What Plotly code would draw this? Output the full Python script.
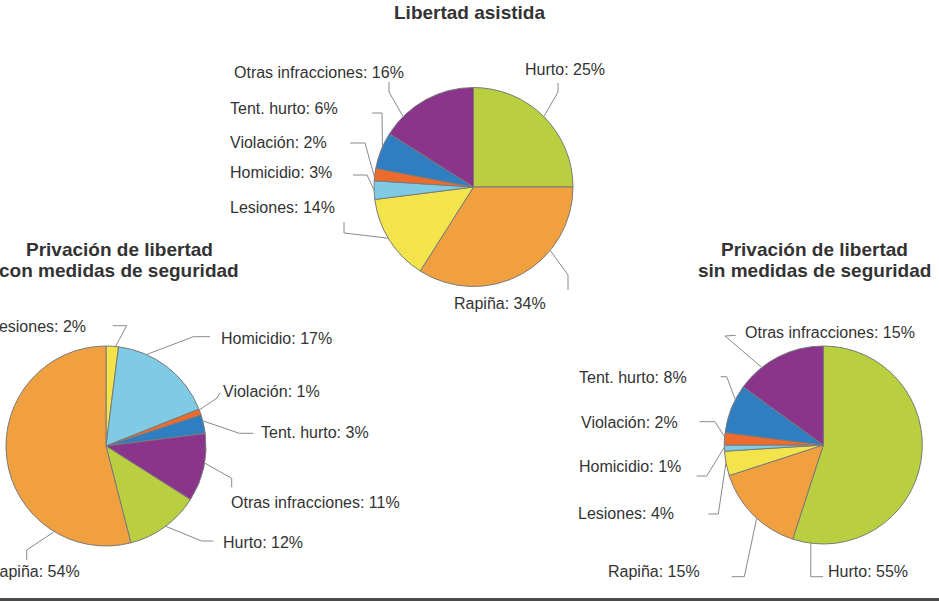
import math
import plotly.graph_objects as go

W, H = 939, 602

# ---- data -------------------------------------------------------------
la_labels = ["Hurto", "Rapiña", "Lesiones", "Homicidio", "Violación",
             "Tent. hurto", "Otras infracciones"]
la_values = [25, 34, 14, 3, 2, 6, 16]

con_labels = ["Lesiones", "Homicidio", "Violación", "Tent. hurto",
              "Otras infracciones", "Hurto", "Rapiña"]
con_values = [2, 17, 1, 3, 11, 12, 54]

sin_labels = ["Hurto", "Rapiña", "Lesiones", "Homicidio", "Violación",
              "Tent. hurto", "Otras infracciones"]
sin_values = [55, 15, 4, 1, 2, 8, 15]

colors = {
    "Hurto": "#B9CF3F",
    "Rapiña": "#F0A03E",
    "Lesiones": "#F2E44A",
    "Homicidio": "#7FCBE6",
    "Violación": "#EE6B2E",
    "Tent. hurto": "#2E7EC1",
    "Otras infracciones": "#8A358B",
}

TEXT = "#333333"
LEADER = "#8a8a8a"
FONT = "Liberation Sans, Arial, sans-serif"


def px(x):
    return x / W


def py(y):
    return 1 - y / H


# ---- layout of each pie: centre, radius, label placement -------------
# label placement: (x, y, xanchor), elbow points, edge angle (deg, clockwise from 12)
pies = [
    dict(
        labels=la_labels, values=la_values, cx=473.5, cy=187, r=99.5,
        place=[
            (523, 69, "left", [(558, 83), (558, 92)], 45),
            (452, 303, "left", [(568, 290), (568, 275)], 129.6),
            (228, 207, "left", [(344, 222), (344, 233)], 239),
            (228, 173, "left", [(353, 175), (367, 175)], 268.3),
            (228, 142, "left", [(350, 143), (365, 143)], 275.7),
            (228, 108, "left", [(372, 113), (382, 113)], 293.8),
            (232, 72, "left", [(389, 82), (389, 92)], 315),
        ],
    ),
    dict(
        labels=con_labels, values=con_values, cx=106, cy=446, r=100,
        place=[
            (88.3, 326.7, "right", [(112.7, 325.7), (126.7, 325.7)], 5.5),
            (219, 338.3, "left", [(210, 336.7), (193.3, 336.7)], 23.9),
            (221, 391, "left", [(220, 393), (217, 398)], 68.9),
            (259, 432.3, "left", [(253.3, 433.3), (239.3, 433.3)], 75.4),
            (229, 502.7, "left", [(231.7, 487.3), (231.7, 478.3)], 99.8),
            (221, 542.3, "left", [(213.3, 541), (201.7, 541)], 143.4),
            (81.7, 571.7, "right", [(26.7, 560), (26.7, 550)], 211.1),
        ],
    ),
    dict(
        labels=sin_labels, values=sin_values, cx=823.3, cy=445, r=99,
        place=[
            (825.7, 571.7, "left", [(823.3, 576.7), (810.7, 576.7)], 187.2),
            (606, 571.7, "left", [(731.7, 576.7), (744.3, 576.7)], 222.3),
            (576, 513.3, "left", [(708.3, 514), (718.3, 514)], 259.6),
            (577, 466.7, "left", [(696.7, 476), (706.7, 476)], 268.7),
            (579, 422.7, "left", [(699.3, 421.7), (715, 421.7)], 274.7),
            (577, 377.7, "left", [(720.7, 376.7), (726.7, 376.7)], 297.3),
            (742.7, 332.7, "left", [(735.7, 335.3), (725, 336)], 321.6),
        ],
    ),
]

titles = [
    (469, [(12.5, "Libertad asistida")]),
    (119, [(250, "Privación de libertad"), (270.7, "con medidas de seguridad")]),
    (814.5, [(250, "Privación de libertad"), (270.7, "sin medidas de seguridad")]),
]

fig = go.Figure()
shapes = []
annotations = []

for p in pies:
    cx, cy, r = p["cx"], p["cy"], p["r"]
    fig.add_trace(go.Pie(
        labels=p["labels"], values=p["values"], sort=False,
        direction="clockwise", rotation=0,
        marker=dict(colors=[colors[l] for l in p["labels"]],
                    line=dict(color="#7a7a7a", width=1)),
        textinfo="none", hoverinfo="label+percent", showlegend=False,
        domain=dict(x=[px(cx - r), px(cx + r)], y=[py(cy + r), py(cy - r)]),
    ))
    total = sum(p["values"])
    for lab, val, (tx, ty, anchor, elbows, ang) in zip(p["labels"], p["values"], p["place"]):
        pct = round(100 * val / total)
        annotations.append(dict(
            x=px(tx), y=py(ty), xref="paper", yref="paper",
            text=f"{lab}: {pct}%", showarrow=False,
            xanchor=anchor, yanchor="middle",
            font=dict(family=FONT, size=16, color=TEXT),
        ))
        a = math.radians(ang)
        ex, ey = cx + r * math.sin(a), cy - r * math.cos(a)
        pts = elbows + [(ex, ey)]
        path = "M " + " L ".join(f"{px(x):.5f},{py(y):.5f}" for x, y in pts)
        shapes.append(dict(type="path", xref="paper", yref="paper", path=path,
                           line=dict(color=LEADER, width=1)))

for cxt, lines in titles:
    for ty, txt in lines:
        annotations.append(dict(
            x=px(cxt), y=py(ty), xref="paper", yref="paper",
            text=f"<b>{txt}</b>", showarrow=False,
            xanchor="center", yanchor="middle",
            font=dict(family=FONT, size=19, color=TEXT),
        ))

# rule along the bottom edge
shapes.append(dict(type="line", xref="paper", yref="paper",
                   x0=0, x1=1, y0=py(599.5), y1=py(599.5),
                   line=dict(color="#4a4a4a", width=3)))

fig.update_layout(
    width=W, height=H,
    margin=dict(l=0, r=0, t=0, b=0),
    paper_bgcolor="white", plot_bgcolor="white",
    shapes=shapes, annotations=annotations,
)

fig.write_html("out.html")
